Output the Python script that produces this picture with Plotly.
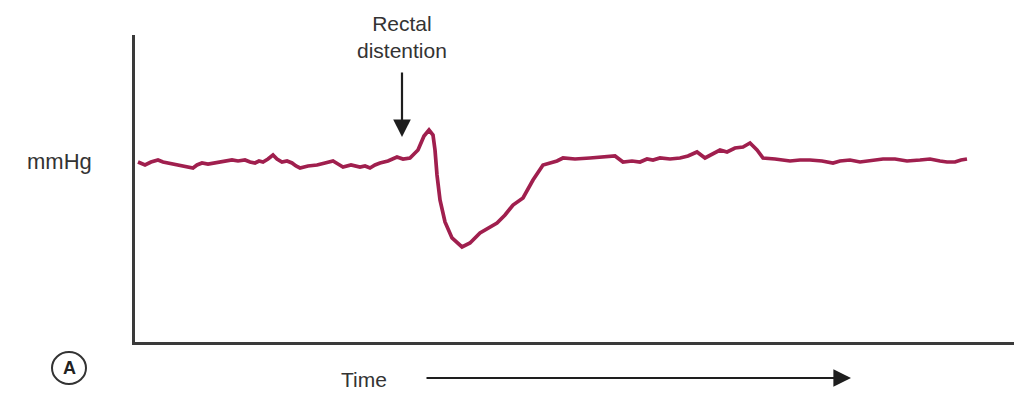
import plotly.graph_objects as go

# Pressure trace (time in arbitrary units, pressure in arbitrary mmHg units)
tempo = [3, 7, 10, 16, 23, 28, 33, 38, 43, 50, 58, 62, 67, 73, 80, 88, 97, 103, 110, 115, 120,
         124, 128, 133, 138, 142, 147, 152, 157, 161, 165, 173, 182, 190, 198, 203, 208, 216,
         225, 230, 235, 240, 245, 253, 262, 268, 275, 279, 283, 289, 294, 298, 300, 302, 305,
         310, 317, 327, 335, 345, 353, 362, 370, 378, 388, 398, 408, 415, 422, 428, 440, 455,
         468, 480, 488, 497, 505, 512, 518, 525, 535, 545, 553, 562, 570, 577, 585, 592, 600,
         608, 615, 622, 628, 640, 655, 665, 675, 687, 698, 705, 715, 725, 735, 748, 760, 772,
         785, 795, 805, 812, 820, 826, 832]
pressao = [180, 178, 177, 180, 182, 180, 179, 178, 177, 176, 174, 177, 179, 178, 179, 181, 182,
           181, 182, 180, 179, 181, 180, 183, 187, 183, 180, 181, 179, 176, 174, 176, 177, 179,
           181, 178, 175, 177, 175, 176, 174, 177, 179, 181, 185, 183, 184, 188, 192, 206, 212,
           207, 192, 167, 142, 120, 104, 95, 99, 109, 114, 119, 127, 137, 144, 162, 177, 179,
           181, 184, 183, 184, 185, 186, 180, 181, 180, 183, 182, 184, 183, 184, 186, 190, 184,
           188, 192, 190, 194, 195, 199, 192, 184, 183, 181, 182, 182, 181, 179, 181, 182, 180,
           181, 183, 183, 181, 182, 183, 181, 180, 180, 182, 183]

# Plot area in pixels (left, top, right, bottom)
L, T, R, B = 135, 35, 1014, 342
W, H = 1014, 395


def px(x):
    # converte posição horizontal em pixels para coordenadas "paper"
    return (x - L) / (R - L)


def py(y):
    return (B - y) / (B - T)


fig = go.Figure()

fig.add_trace(go.Scatter(
    x=tempo,
    y=pressao,
    mode='lines',
    line=dict(color='#a01f4e', width=3.7),
    hoverinfo='skip',
    showlegend=False
))

fonte = 'Liberation Sans, Arial, sans-serif'


def rotulo(texto, x, y, tamanho=20, cor='#333333'):
    return dict(text=texto, xref='paper', yref='paper', x=px(x), y=py(y),
                xanchor='center', yanchor='middle', showarrow=False,
                font=dict(size=tamanho, color=cor))


fig.update_layout(
    width=W,
    height=H,
    margin=dict(l=L, r=W - R, t=T, b=H - B),
    paper_bgcolor='white',
    plot_bgcolor='white',
    xaxis=dict(range=[0, R - L], showgrid=False, zeroline=False, showticklabels=False,
               ticks='', showline=True, linecolor='#3a3a3a', linewidth=2.5, fixedrange=True),
    yaxis=dict(range=[0, B - T], showgrid=False, zeroline=False, showticklabels=False,
               ticks='', showline=True, linecolor='#3a3a3a', linewidth=2.5, fixedrange=True),
    font=dict(family=fonte, color='#333333', size=20),
    annotations=[
        rotulo('mmHg', 59, 161, 22),
        rotulo('Rectal<br>distention', 402, 37, 21),
        # seta de distensão
        dict(text='', xref='paper', yref='paper', x=px(402), y=py(137),
             ax=0, ay=-66, showarrow=True, arrowhead=2, arrowsize=1.6,
             arrowwidth=2.2, arrowcolor='#1e1e1e', standoff=0),
        rotulo('Time', 364, 379, 21),
        # seta do tempo
        dict(text='', xref='paper', yref='paper', x=px(851), y=py(378),
             ax=-426, ay=0, showarrow=True, arrowhead=2, arrowsize=1.6,
             arrowwidth=2.2, arrowcolor='#1e1e1e', standoff=0),
        rotulo('<b>A</b>', 69, 368, 18, '#222222'),
    ],
    shapes=[
        dict(type='circle', xref='paper', yref='paper',
             x0=px(52), x1=px(86), y0=py(384), y1=py(352),
             line=dict(color='#333333', width=2)),
    ]
)

# remove a margem padrão do body para alinhar a figura com a janela
fig.write_html("out.html", config={'displayModeBar': False},
               post_script="document.body.style.margin='0';")
